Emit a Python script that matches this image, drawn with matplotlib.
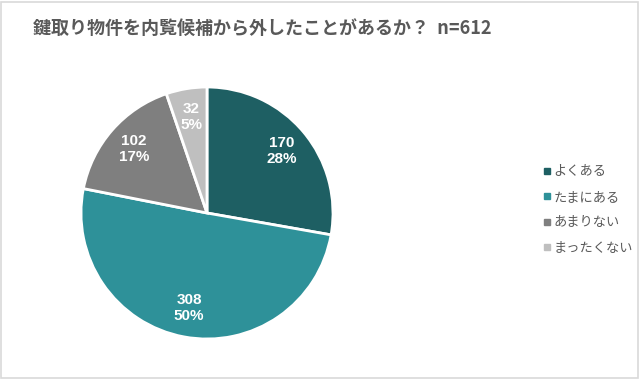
import matplotlib.pyplot as plt
from matplotlib.patches import Rectangle
from matplotlib.lines import Line2D

plt.rcParams['font.family'] = ['Noto Sans CJK JP', 'DejaVu Sans']

labels = ['よくある', 'たまにある', 'あまりない', 'まったくない']
counts = [170, 308, 102, 32]
colors = ['#1e5f63', '#2e9199', '#7f7f7f', '#bfbfbf']
total = sum(counts)

fig = plt.figure(figsize=(6.4, 3.79), dpi=100)

# outer frame
fig.patches.append(Rectangle((0.002, 0.003), 0.995, 0.993, transform=fig.transFigure,
                             fill=False, edgecolor='#d9d9d9', linewidth=1.2))

fig.text(33 / 640, 1 - 28 / 379, '鍵取り物件を内覧候補から外したことがあるか？  n=612',
         fontsize=13, color='#595959', fontweight='bold', va='center', ha='left')

cx, cy, r = 207, 379 - 213, 126
ax = fig.add_axes([(cx - r) / 640, (cy - r) / 379, 2 * r / 640, 2 * r / 379])


def fmt(pct):
    n = int(round(pct * total / 100))
    return f'{n}\n{pct:.0f}%'


wedges, texts, autotexts = ax.pie(counts, colors=colors, startangle=90, counterclock=False,
                                  autopct=fmt, pctdistance=0.77,
                                  wedgeprops=dict(edgecolor='white', linewidth=2))
for t in autotexts:
    t.set_color('white')
    t.set_fontsize(11)
    t.set_fontweight('bold')
    t.set_family(['Liberation Sans', 'DejaVu Sans'])
    t.set_linespacing(1.2)
ax.set_xlim(-1, 1)
ax.set_ylim(-1, 1)
ax.set_aspect('equal')

handles = [Line2D([], [], marker='s', linestyle='', markersize=4.5, color=c) for c in colors]
fig.legend(handles, labels, loc='center left', bbox_to_anchor=(530 / 640, 1 - 210 / 379),
           frameon=False, fontsize=9.5, labelcolor='#595959', handletextpad=0.1,
           labelspacing=0.95, handlelength=0.8)

fig.savefig('out.png', dpi=100)
